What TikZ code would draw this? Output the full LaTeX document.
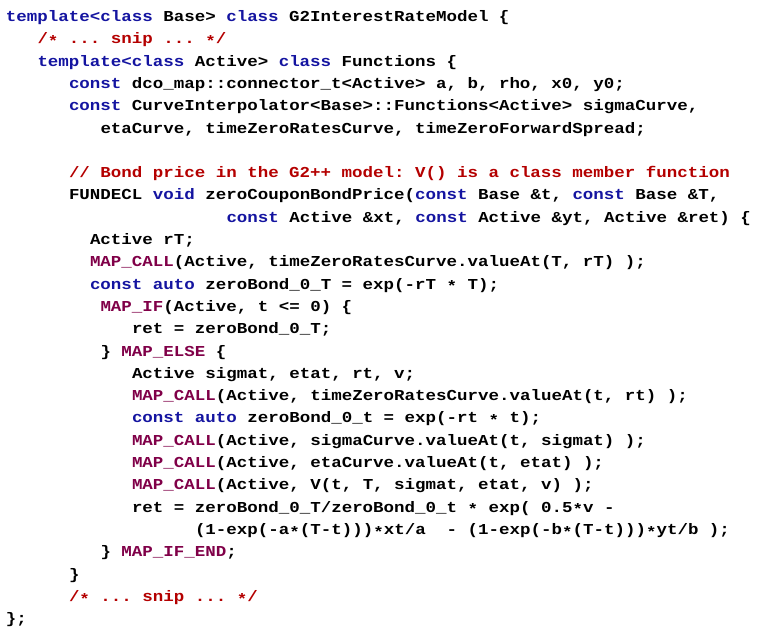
\documentclass[tikz,border=0pt]{standalone}
\usepackage{fontspec}
\usepackage{xcolor}
\newfontfamily\codefam[FakeStretch=1.15]{Liberation Mono}
\definecolor{kwblue}{RGB}{20,20,160}
\definecolor{cmtred}{RGB}{180,0,0}
\definecolor{macpurple}{RGB}{128,0,72}
\newcommand{\kw}[1]{\textcolor{kwblue}{#1}}
\newcommand{\cmt}[1]{\textcolor{cmtred}{#1}}
\newcommand{\mac}[1]{\textcolor{macpurple}{#1}}
\newcommand{\cstar}{\raisebox{-0.35ex}{*}}
\newcommand{\codefont}{\codefam\bfseries\fontsize{11.4pt}{16.7pt}\selectfont\frenchspacing}
\tikzset{codeline/.style={anchor=base west, inner sep=0pt, outer sep=0pt, font=\codefont}}

\begin{document}
\begin{tikzpicture}[x=0.75pt, y=-0.75pt]
			%%%%% START %%%%%
			\useasboundingbox (0, 0) rectangle (762, 638);
			
			% class header
			\node[codeline] (l0) at (6, 21.5) {\kw{template<class} Base> \kw{class} G2InterestRateModel \{};
			\node[codeline] (l1) at (37.5, 43.8) {\cmt{/\cstar{} ... snip ... \cstar/}};
			\node[codeline] (l2) at (37.5, 66.1) {\kw{template<class} Active> \kw{class} Functions \{};
			\node[codeline] (l3) at (69, 88.4) {\kw{const} dco\_map::connector\_t<Active> a, b, rho, x0, y0;};
			\node[codeline] (l4) at (69, 110.7) {\kw{const} CurveInterpolator<Base>::Functions<Active> sigmaCurve,};
			\node[codeline] (l5) at (100.5, 133.0) {etaCurve, timeZeroRatesCurve, timeZeroForwardSpread;};
			
			% bond price
			\node[codeline] (l7) at (69, 177.6) {\cmt{// Bond price in the G2++ model: V() is a class member function}};
			\node[codeline] (l8) at (69, 199.9) {FUNDECL \kw{void} zeroCouponBondPrice(\kw{const} Base \&t, \kw{const} Base \&T,};
			\node[codeline] (l9) at (226.5, 222.2) {\kw{const} Active \&xt, \kw{const} Active \&yt, Active \&ret) \{};
			\node[codeline] (l10) at (90, 244.5) {Active rT;};
			\node[codeline] (l11) at (90, 266.8) {\mac{MAP\_CALL}(Active, timeZeroRatesCurve.valueAt(T, rT) );};
			\node[codeline] (l12) at (90, 289.1) {\kw{const} \kw{auto} zeroBond\_0\_T = exp(-rT \cstar{} T);};
			\node[codeline] (l13) at (100.5, 311.4) {\mac{MAP\_IF}(Active, t <= 0) \{};
			\node[codeline] (l14) at (132, 333.7) {ret = zeroBond\_0\_T;};
			\node[codeline] (l15) at (100.5, 356.0) {\} \mac{MAP\_ELSE} \{};
			\node[codeline] (l16) at (132, 378.3) {Active sigmat, etat, rt, v;};
			\node[codeline] (l17) at (132, 400.6) {\mac{MAP\_CALL}(Active, timeZeroRatesCurve.valueAt(t, rt) );};
			\node[codeline] (l18) at (132, 422.9) {\kw{const} \kw{auto} zeroBond\_0\_t = exp(-rt \cstar{} t);};
			\node[codeline] (l19) at (132, 445.2) {\mac{MAP\_CALL}(Active, sigmaCurve.valueAt(t, sigmat) );};
			\node[codeline] (l20) at (132, 467.5) {\mac{MAP\_CALL}(Active, etaCurve.valueAt(t, etat) );};
			\node[codeline] (l21) at (132, 489.8) {\mac{MAP\_CALL}(Active, V(t, T, sigmat, etat, v) );};
			\node[codeline] (l22) at (132, 512.1) {ret = zeroBond\_0\_T/zeroBond\_0\_t \cstar{} exp( 0.5\cstar{}v -};
			\node[codeline] (l23) at (195, 534.4) {(1-exp(-a\cstar{}(T-t)))\cstar{}xt/a~~- (1-exp(-b\cstar{}(T-t)))\cstar{}yt/b );};
			\node[codeline] (l24) at (100.5, 556.7) {\} \mac{MAP\_IF\_END};};
			\node[codeline] (l25) at (69, 579.0) {\}};
			\node[codeline] (l26) at (69, 601.3) {\cmt{/\cstar{} ... snip ... \cstar/}};
			\node[codeline] (l27) at (6, 623.6) {\};};
			
			%%%%% END %%%%%
		\end{tikzpicture}
\end{document}
